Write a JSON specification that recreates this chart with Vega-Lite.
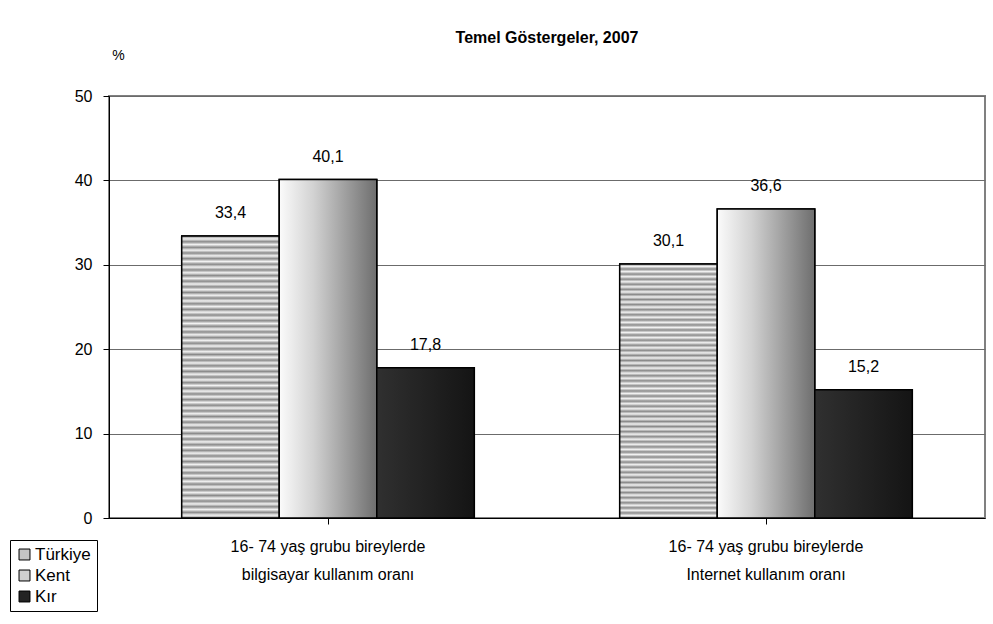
{
  "$schema": "https://vega.github.io/schema/vega-lite/v6.json",
  "autosize": "none",
  "width": 876,
  "height": 422,
  "padding": {"left": 109, "top": 96, "right": 8, "bottom": 106},
  "background": "white",
  "title": {
    "text": "Temel Göstergeler, 2007",
    "fontSize": 16,
    "fontWeight": "bold",
    "font": "Liberation Sans",
    "color": "black",
    "offset": 2
  },
  "config": {
    "font": "Liberation Sans",
    "view": {"stroke": "#808080", "strokeWidth": 2}
  },
  "data": {
    "values": [
      {"category": "16- 74 yaş grubu bireylerde bilgisayar kullanım oranı", "series": "Türkiye", "value": 33.4, "label": "33,4"},
      {"category": "16- 74 yaş grubu bireylerde bilgisayar kullanım oranı", "series": "Kent", "value": 40.1, "label": "40,1"},
      {"category": "16- 74 yaş grubu bireylerde bilgisayar kullanım oranı", "series": "Kır", "value": 17.8, "label": "17,8"},
      {"category": "16- 74 yaş grubu bireylerde Internet kullanım oranı", "series": "Türkiye", "value": 30.1, "label": "30,1"},
      {"category": "16- 74 yaş grubu bireylerde Internet kullanım oranı", "series": "Kent", "value": 36.6, "label": "36,6"},
      {"category": "16- 74 yaş grubu bireylerde Internet kullanım oranı", "series": "Kır", "value": 15.2, "label": "15,2"}
    ]
  },
  "encoding": {
    "x": {
      "field": "category",
      "type": "nominal",
      "sort": null,
      "scale": {"paddingInner": 0.332, "paddingOuter": 0.166},
      "axis": {
        "title": null,
        "labelAngle": 0,
        "labelFontSize": 16,
        "labelColor": "black",
        "labelPadding": 14,
        "labelLineHeight": 28,
        "labelExpr": "[slice(datum.value,0,27), slice(datum.value,28)]",
        "domainColor": "black",
        "tickColor": "black",
        "tickSize": 6,
        "grid": false,
        "labelLimit": 400
      }
    },
    "xOffset": {
      "field": "series",
      "type": "nominal",
      "sort": ["Türkiye", "Kent", "Kır"]
    },
    "y": {
      "field": "value",
      "type": "quantitative",
      "scale": {"domain": [0, 50], "nice": false},
      "axis": {
        "values": [0, 10, 20, 30, 40, 50],
        "title": "%",
        "titleAngle": 0,
        "titleX": 9,
        "titleY": -41,
        "titleAlign": "center",
        "titleBaseline": "middle",
        "titleFontSize": 14,
        "titleFontWeight": "normal",
        "titleColor": "black",
        "labelFontSize": 16,
        "labelColor": "black",
        "labelPadding": 11,
        "domainColor": "black",
        "tickColor": "black",
        "tickSize": 6,
        "gridColor": "#6b6b6b"
      }
    }
  },
  "layer": [
    {
      "mark": {"type": "bar", "stroke": "black", "strokeWidth": 1.5},
      "encoding": {
        "fill": {
          "field": "series",
          "type": "nominal",
          "sort": ["Türkiye", "Kent", "Kır"],
          "scale": {"range": ["#c4c4c4", "#d0d0d0", "#232323"]},
          "legend": {
            "orient": "none",
            "legendX": -99,
            "legendY": 444,
            "title": null,
            "strokeColor": "black",
            "padding": 6,
            "symbolType": "square",
            "symbolSize": 120,
            "symbolStrokeColor": "black",
            "symbolStrokeWidth": 1,
            "labelFontSize": 17,
            "labelColor": "black",
            "labelOffset": 2,
            "rowPadding": 3
          }
        }
      }
    },
    {
      "transform": [{"filter": "datum.series === 'Türkiye'"}],
      "mark": {"type": "bar", "stroke": "black", "strokeWidth": 1.5, "color":
        {"gradient": "linear", "x1": 0, "y1": 0, "x2": 0, "y2": 1, "stops": [
          {"offset": 0.00, "color": "#8a8a8a"}, {"offset": 0.01, "color": "#f2f2f2"},
          {"offset": 0.02, "color": "#8a8a8a"}, {"offset": 0.03, "color": "#f2f2f2"},
          {"offset": 0.04, "color": "#8a8a8a"}, {"offset": 0.05, "color": "#f2f2f2"},
          {"offset": 0.06, "color": "#8a8a8a"}, {"offset": 0.07, "color": "#f2f2f2"},
          {"offset": 0.08, "color": "#8a8a8a"}, {"offset": 0.09, "color": "#f2f2f2"},
          {"offset": 0.10, "color": "#8a8a8a"}, {"offset": 0.11, "color": "#f2f2f2"},
          {"offset": 0.12, "color": "#8a8a8a"}, {"offset": 0.13, "color": "#f2f2f2"},
          {"offset": 0.14, "color": "#8a8a8a"}, {"offset": 0.15, "color": "#f2f2f2"},
          {"offset": 0.16, "color": "#8a8a8a"}, {"offset": 0.17, "color": "#f2f2f2"},
          {"offset": 0.18, "color": "#8a8a8a"}, {"offset": 0.19, "color": "#f2f2f2"},
          {"offset": 0.20, "color": "#8a8a8a"}, {"offset": 0.21, "color": "#f2f2f2"},
          {"offset": 0.22, "color": "#8a8a8a"}, {"offset": 0.23, "color": "#f2f2f2"},
          {"offset": 0.24, "color": "#8a8a8a"}, {"offset": 0.25, "color": "#f2f2f2"},
          {"offset": 0.26, "color": "#8a8a8a"}, {"offset": 0.27, "color": "#f2f2f2"},
          {"offset": 0.28, "color": "#8a8a8a"}, {"offset": 0.29, "color": "#f2f2f2"},
          {"offset": 0.30, "color": "#8a8a8a"}, {"offset": 0.31, "color": "#f2f2f2"},
          {"offset": 0.32, "color": "#8a8a8a"}, {"offset": 0.33, "color": "#f2f2f2"},
          {"offset": 0.34, "color": "#8a8a8a"}, {"offset": 0.35, "color": "#f2f2f2"},
          {"offset": 0.36, "color": "#8a8a8a"}, {"offset": 0.37, "color": "#f2f2f2"},
          {"offset": 0.38, "color": "#8a8a8a"}, {"offset": 0.39, "color": "#f2f2f2"},
          {"offset": 0.40, "color": "#8a8a8a"}, {"offset": 0.41, "color": "#f2f2f2"},
          {"offset": 0.42, "color": "#8a8a8a"}, {"offset": 0.43, "color": "#f2f2f2"},
          {"offset": 0.44, "color": "#8a8a8a"}, {"offset": 0.45, "color": "#f2f2f2"},
          {"offset": 0.46, "color": "#8a8a8a"}, {"offset": 0.47, "color": "#f2f2f2"},
          {"offset": 0.48, "color": "#8a8a8a"}, {"offset": 0.49, "color": "#f2f2f2"},
          {"offset": 0.50, "color": "#8a8a8a"}, {"offset": 0.51, "color": "#f2f2f2"},
          {"offset": 0.52, "color": "#8a8a8a"}, {"offset": 0.53, "color": "#f2f2f2"},
          {"offset": 0.54, "color": "#8a8a8a"}, {"offset": 0.55, "color": "#f2f2f2"},
          {"offset": 0.56, "color": "#8a8a8a"}, {"offset": 0.57, "color": "#f2f2f2"},
          {"offset": 0.58, "color": "#8a8a8a"}, {"offset": 0.59, "color": "#f2f2f2"},
          {"offset": 0.60, "color": "#8a8a8a"}, {"offset": 0.61, "color": "#f2f2f2"},
          {"offset": 0.62, "color": "#8a8a8a"}, {"offset": 0.63, "color": "#f2f2f2"},
          {"offset": 0.64, "color": "#8a8a8a"}, {"offset": 0.65, "color": "#f2f2f2"},
          {"offset": 0.66, "color": "#8a8a8a"}, {"offset": 0.67, "color": "#f2f2f2"},
          {"offset": 0.68, "color": "#8a8a8a"}, {"offset": 0.69, "color": "#f2f2f2"},
          {"offset": 0.70, "color": "#8a8a8a"}, {"offset": 0.71, "color": "#f2f2f2"},
          {"offset": 0.72, "color": "#8a8a8a"}, {"offset": 0.73, "color": "#f2f2f2"},
          {"offset": 0.74, "color": "#8a8a8a"}, {"offset": 0.75, "color": "#f2f2f2"},
          {"offset": 0.76, "color": "#8a8a8a"}, {"offset": 0.77, "color": "#f2f2f2"},
          {"offset": 0.78, "color": "#8a8a8a"}, {"offset": 0.79, "color": "#f2f2f2"},
          {"offset": 0.80, "color": "#8a8a8a"}, {"offset": 0.81, "color": "#f2f2f2"},
          {"offset": 0.82, "color": "#8a8a8a"}, {"offset": 0.83, "color": "#f2f2f2"},
          {"offset": 0.84, "color": "#8a8a8a"}, {"offset": 0.85, "color": "#f2f2f2"},
          {"offset": 0.86, "color": "#8a8a8a"}, {"offset": 0.87, "color": "#f2f2f2"},
          {"offset": 0.88, "color": "#8a8a8a"}, {"offset": 0.89, "color": "#f2f2f2"},
          {"offset": 0.90, "color": "#8a8a8a"}, {"offset": 0.91, "color": "#f2f2f2"},
          {"offset": 0.92, "color": "#8a8a8a"}, {"offset": 0.93, "color": "#f2f2f2"},
          {"offset": 0.94, "color": "#8a8a8a"}, {"offset": 0.95, "color": "#f2f2f2"},
          {"offset": 0.96, "color": "#8a8a8a"}, {"offset": 0.97, "color": "#f2f2f2"},
          {"offset": 0.98, "color": "#8a8a8a"}, {"offset": 0.99, "color": "#f2f2f2"},
          {"offset": 1.00, "color": "#8a8a8a"}
        ]}
      }
    },
    {
      "transform": [{"filter": "datum.series === 'Kent'"}],
      "mark": {"type": "bar", "stroke": "black", "strokeWidth": 1.5, "color":
        {"gradient": "linear", "x1": 0, "y1": 0, "x2": 1, "y2": 0, "stops": [
          {"offset": 0, "color": "#fbfbfb"},
          {"offset": 0.35, "color": "#d2d2d2"},
          {"offset": 0.7, "color": "#9c9c9c"},
          {"offset": 1, "color": "#6e6e6e"}
        ]}
      }
    },
    {
      "transform": [{"filter": "datum.series === 'Kır'"}],
      "mark": {"type": "bar", "stroke": "black", "strokeWidth": 1.5, "color":
        {"gradient": "linear", "x1": 0, "y1": 0, "x2": 1, "y2": 0, "stops": [
          {"offset": 0, "color": "#303030"},
          {"offset": 1, "color": "#141414"}
        ]}
      }
    },
    {
      "mark": {"type": "text", "fontSize": 16, "color": "black", "dy": -23, "baseline": "middle"},
      "encoding": {
        "text": {"field": "label", "type": "nominal"}
      }
    }
  ]
}
